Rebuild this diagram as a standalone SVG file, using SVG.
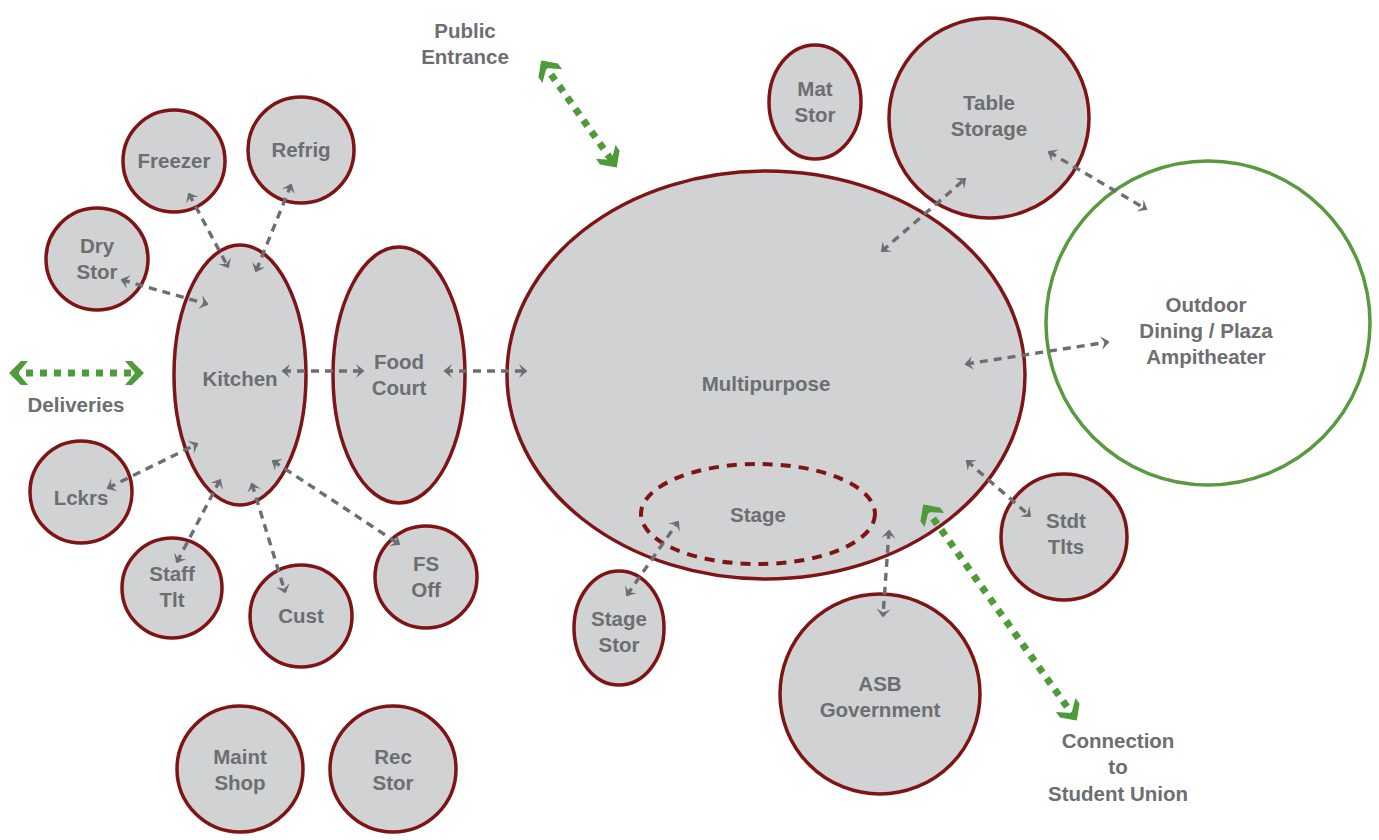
<svg xmlns="http://www.w3.org/2000/svg" width="1379" height="840" viewBox="0 0 1379 840">
<style>
.n{fill:#d1d2d4;stroke:#7f1416;stroke-width:3.5}
.o{fill:#ffffff;stroke:#5a9a3e;stroke-width:3.5}
.st{fill:none;stroke:#7f1416;stroke-width:4;stroke-dasharray:10 8}
text{font-family:"Liberation Sans",Arial,sans-serif;font-weight:bold;font-size:20.5px;fill:#6d6e71;text-anchor:middle}
.g{fill:none;stroke:#6d6e71;stroke-width:3.4;stroke-dasharray:8 6}
.gr{fill:none;stroke:#4f9a3b;stroke-width:7;stroke-dasharray:7 7}
</style>
<defs>
<marker id="a" markerUnits="userSpaceOnUse" markerWidth="20" markerHeight="20" refX="0" refY="0" viewBox="-10 -10 20 20" orient="auto-start-reverse">
<path d="M-7,-7 L1.5,0 L-7,7 L-3.5,0 Z" fill="#6d6e71"/>
</marker>
<marker id="ga" markerUnits="userSpaceOnUse" markerWidth="36" markerHeight="36" refX="0" refY="0" viewBox="-18 -18 36 36" orient="auto-start-reverse">
<path d="M-9,-12 L3,0 L-9,12 L-16,12 L-6,0 L-16,-12 Z" fill="#4f9a3b"/>
</marker>
</defs>
<g id="nodes">
<g id="freezer"><circle class="n" cx="174" cy="161" r="51"/><text x="174" y="168">Freezer</text></g>
<g id="refrig"><circle class="n" cx="301" cy="150" r="53"/><text x="301" y="157">Refrig</text></g>
<g id="drystor"><circle class="n" cx="97" cy="259" r="51"/><text x="97" y="253">Dry</text><text x="97" y="279">Stor</text></g>
<g id="kitchen"><ellipse class="n" cx="240" cy="375" rx="66" ry="130"/><text x="240" y="386">Kitchen</text></g>
<g id="foodcourt"><ellipse class="n" cx="399" cy="375" rx="66" ry="128"/><text x="399" y="369">Food</text><text x="399" y="395">Court</text></g>
<g id="lckrs"><circle class="n" cx="81" cy="492" r="51"/><text x="81" y="505">Lckrs</text></g>
<g id="stafftlt"><circle class="n" cx="172" cy="588" r="50"/><text x="172" y="581">Staff</text><text x="172" y="607">Tlt</text></g>
<g id="cust"><circle class="n" cx="301" cy="616" r="51"/><text x="301" y="623">Cust</text></g>
<g id="fsoff"><circle class="n" cx="426" cy="577" r="51"/><text x="426" y="571">FS</text><text x="426" y="597">Off</text></g>
<g id="maintshop"><circle class="n" cx="240" cy="769" r="63"/><text x="240" y="764">Maint</text><text x="240" y="790">Shop</text></g>
<g id="recstor"><circle class="n" cx="393" cy="769" r="63"/><text x="393" y="764">Rec</text><text x="393" y="790">Stor</text></g>
<g id="multipurpose"><ellipse class="n" cx="766" cy="375" rx="259" ry="204"/><text x="766" y="391">Multipurpose</text></g>
<g id="stage"><ellipse class="st" cx="758" cy="514" rx="117" ry="50"/><text x="758" y="522">Stage</text></g>
<g id="stagestor"><ellipse class="n" cx="619" cy="628" rx="45" ry="57"/><text x="619" y="626">Stage</text><text x="619" y="652">Stor</text></g>
<g id="matstor"><ellipse class="n" cx="815" cy="102" rx="46" ry="57"/><text x="815" y="96">Mat</text><text x="815" y="122">Stor</text></g>
<g id="tablestorage"><circle class="n" cx="989" cy="118" r="100"/><text x="989" y="110">Table</text><text x="989" y="136">Storage</text></g>
<g id="outdoor"><circle class="o" cx="1208" cy="323" r="162"/><text x="1206" y="312">Outdoor</text><text x="1206" y="338">Dining / Plaza</text><text x="1206" y="364">Ampitheater</text></g>
<g id="stdttlts"><circle class="n" cx="1064" cy="537" r="63"/><text x="1066" y="528">Stdt</text><text x="1066" y="554">Tlts</text></g>
<g id="asb"><circle class="n" cx="880" cy="694" r="100"/><text x="880" y="691">ASB</text><text x="880" y="717">Government</text></g>
</g>
<g id="labels">
<text x="465" y="38">Public</text><text x="465" y="64">Entrance</text>
<text x="76" y="412">Deliveries</text>
<text x="1118" y="748">Connection</text><text x="1118" y="774">to</text><text x="1118" y="801">Student Union</text>
</g>
<g id="connectors">
<line class="g" x1="189" y1="194" x2="228" y2="267" marker-start="url(#a)" marker-end="url(#a)"/>
<line class="g" x1="291" y1="185" x2="256" y2="271" marker-start="url(#a)" marker-end="url(#a)"/>
<line class="g" x1="122" y1="280" x2="207" y2="304" marker-start="url(#a)" marker-end="url(#a)"/>
<line class="g" x1="283" y1="371" x2="363" y2="371" marker-start="url(#a)" marker-end="url(#a)"/>
<line class="g" x1="445" y1="371" x2="526" y2="371" marker-start="url(#a)" marker-end="url(#a)"/>
<line class="g" x1="108" y1="488" x2="197" y2="444" marker-start="url(#a)" marker-end="url(#a)"/>
<line class="g" x1="177" y1="562" x2="220" y2="480" marker-start="url(#a)" marker-end="url(#a)"/>
<line class="g" x1="252" y1="484" x2="285" y2="592" marker-start="url(#a)" marker-end="url(#a)"/>
<line class="g" x1="273" y1="461" x2="399" y2="544" marker-start="url(#a)" marker-end="url(#a)"/>
<line class="g" x1="627" y1="595" x2="678" y2="522" marker-start="url(#a)" marker-end="url(#a)"/>
<line class="g" x1="889" y1="531" x2="883" y2="616" marker-start="url(#a)" marker-end="url(#a)"/>
<line class="g" x1="967" y1="461" x2="1030" y2="516" marker-start="url(#a)" marker-end="url(#a)"/>
<line class="g" x1="966" y1="364" x2="1108" y2="342" marker-start="url(#a)" marker-end="url(#a)"/>
<line class="g" x1="882" y1="251" x2="965" y2="179" marker-start="url(#a)" marker-end="url(#a)"/>
<line class="g" x1="1049" y1="152" x2="1146" y2="209" marker-start="url(#a)" marker-end="url(#a)"/>
<line class="gr" x1="543" y1="63" x2="615" y2="165" marker-start="url(#ga)" marker-end="url(#ga)"/>
<line class="gr" x1="12" y1="373" x2="141" y2="373" marker-start="url(#ga)" marker-end="url(#ga)"/>
<line class="gr" x1="925" y1="507" x2="1075" y2="718" marker-start="url(#ga)" marker-end="url(#ga)"/>
</g>
</svg>
